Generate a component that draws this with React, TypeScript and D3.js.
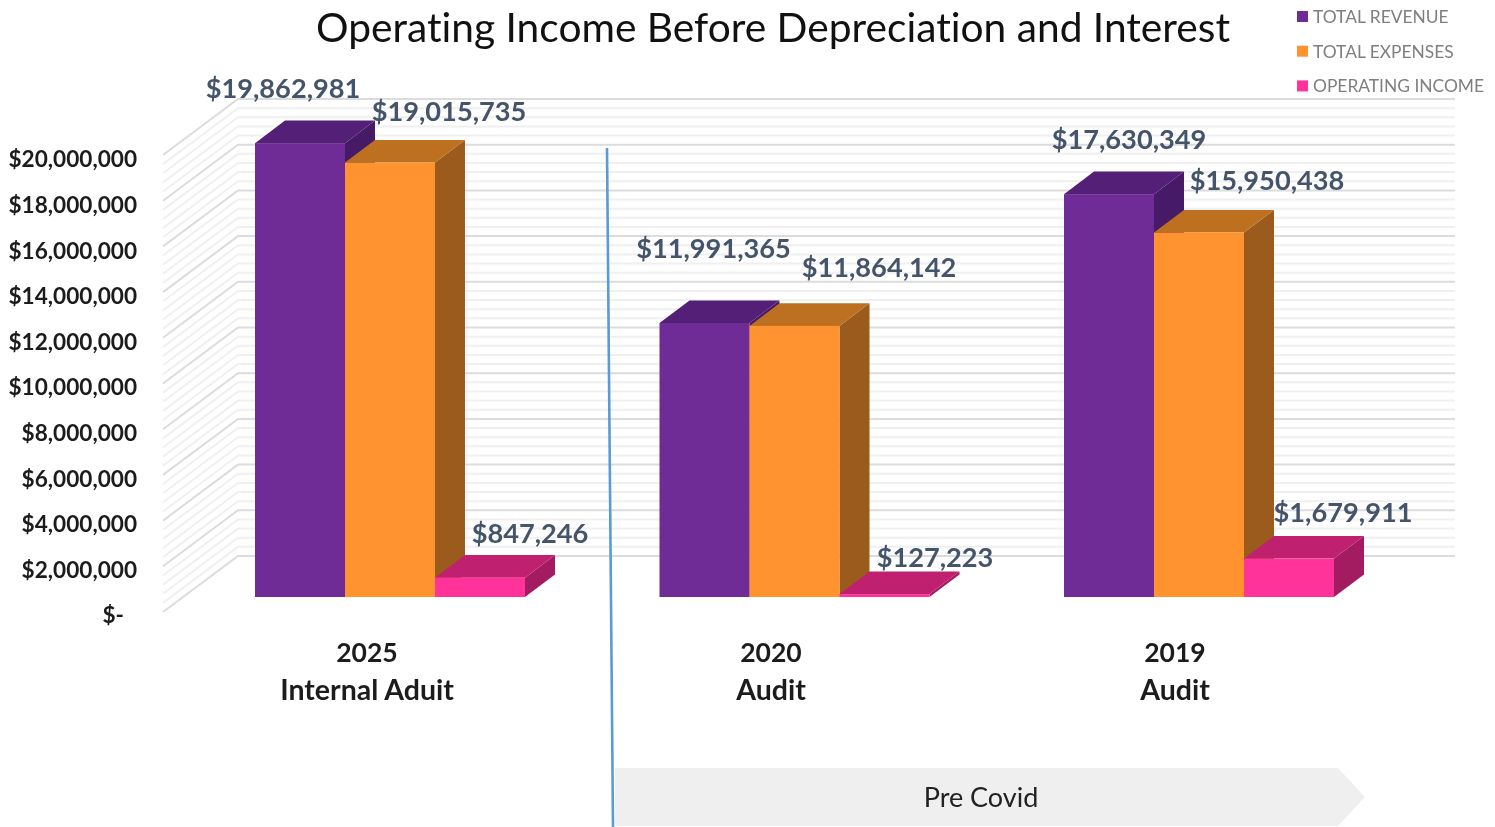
import React from "react";
import * as d3 from "d3";

const groups = ["2025", "2020", "2019"];
const groupSubs = ["Internal Aduit", "Audit", "Audit"];
const seriesNames = ["TOTAL REVENUE", "TOTAL EXPENSES", "OPERATING INCOME"];
const revenue = [19862981, 11991365, 17630349];
const expenses = [19015735, 11864142, 15950438];
const income = [847246, 127223, 1679911];
const seriesValues = [revenue, expenses, income];
const frontColors = ["#6f2c96", "#ff9330", "#ff3399"];
const topColors = ["#541f77", "#bd7020", "#c02070"];
const sideColors = ["#461a66", "#9a5b1c", "#a31c62"];
const axisTicks = d3.range(0, 20000001, 2000000);

// label offsets: dx of label centre from group left, dy of baseline from bar top (series, then group)
const labelDx = [[28, 54, 65], [194, 219.5, 203], [275, 275.5, 279]];
const labelDy = [[-45, -65, -45], [-41.5, -49, -43], [-35, -27, -37]];

const W = 1495, H = 827;
const FONT = "Lato, 'Open Sans', sans-serif";
const fmt = d3.format(",");

const yFront = d3.scaleLinear().domain([0, 20000000]).range([597, 140]);
const yWall = d3.scaleLinear().domain([0, 20000000]).range([556, 99]);
const ySide = d3.scaleLinear().domain([0, 20000000]).range([612, 155]);
const yTick = d3.scaleLinear().domain([0, 20000000]).range([615.5, 159.5]);
const groupStep = 404.5;
const xBar = d3.scaleBand<string>().domain(seriesNames).range([0, 270]);
const depthX = 30, depthY = 22.6;
const minorTicks = d3.range(0, 20000001, 400000);
const wallLeft = 238, sideLeft = 163, wallRight = 1455;

export default function App() {
  const line = d3.line();
  return (
    <svg width={W} height={H} viewBox={`0 0 ${W} ${H}`}
      style={{ position: "absolute", left: 0, top: 0, display: "block", background: "#fff", fontFamily: FONT, fontVariantLigatures: "none", filter: "blur(0.5px)" }}>
      {/* walls */}
      {minorTicks.map((t) => {
        const major = t % 2000000 === 0;
        const c = major ? "#dcdcdc" : "#f0f0f0";
        return (
          <path key={t} fill="none" stroke={c} strokeWidth={2}
            d={line([[sideLeft, ySide(t)], [wallLeft, yWall(t)], [wallRight, yWall(t)]])!} />
        );
      })}
      {/* y axis labels */}
      {axisTicks.map((t) => (
        <text key={t} x={t === 0 ? 124 : 137} y={yTick(t)} dy="0.35em" textAnchor="end"
          fontSize={22.6} fontWeight={700} fill="#1c1c1c">
          {t === 0 ? "$-" : "$" + fmt(t)}
        </text>
      ))}
      {/* bars */}
      {groups.map((g, gi) => {
        const gx = 255 + gi * groupStep;
        return (
          <g key={g}>
            {seriesNames.map((s, si) => {
              const v = seriesValues[si][gi];
              const x0 = gx + xBar(s)!;
              const x1 = x0 + xBar.bandwidth();
              const yt = yFront(v), yb = yFront(0);
              return (
                <g key={s}>
                  <path fill={sideColors[si]} d={line([[x1, yb], [x1 + depthX, yb - depthY], [x1 + depthX, yt - depthY], [x1, yt]])! + "Z"} />
                  <path fill={topColors[si]} d={line([[x0, yt], [x0 + depthX, yt - depthY], [x1 + depthX, yt - depthY], [x1, yt]])! + "Z"} />
                  <rect x={x0} y={yt} width={x1 - x0} height={yb - yt} fill={frontColors[si]} />
                </g>
              );
            })}
          </g>
        );
      })}
      {/* data labels */}
      {groups.map((g, gi) =>
        seriesNames.map((s, si) => {
          const v = seriesValues[si][gi];
          return (
            <text key={g + s} x={255 + gi * groupStep + labelDx[si][gi]}
              y={yFront(v) + labelDy[si][gi]} textAnchor="middle" fontSize={27.2} fontWeight={700} fill="#44546a">
              {"$" + fmt(v)}
            </text>
          );
        })
      )}
      {/* category labels */}
      {groups.map((g, gi) => {
        const cx = 367 + gi * 404;
        return (
          <g key={g} textAnchor="middle" fontWeight={700} fill="#1c1c1c">
            <text x={cx} y={662} fontSize={26.5}>{g}</text>
            <text x={cx} y={700} fontSize={28.5}>{groupSubs[gi]}</text>
          </g>
        );
      })}
      {/* title */}
      <text x={773} y={42} textAnchor="middle" fontSize={40.7} fill="#111">
        Operating Income Before Depreciation and Interest
      </text>
      {/* legend */}
      {seriesNames.map((s, i) => (
        <g key={s}>
          <rect x={1297} y={11 + i * 34.7} width={11} height={11} fill={frontColors[i]} />
          <text x={1313} y={23 + i * 34.7} fontSize={17.4} fill="#7f7f7f">{s}</text>
        </g>
      ))}
      {/* divider */}
      <line x1={607} y1={148} x2={613} y2={827} stroke="#5b9bd5" strokeWidth={2.6} />
      {/* arrow */}
      <path fill="#efefef" d="M615,768 L1338,768 L1365,797 L1338,826 L615,826 Z" />
      <text x={981} y={807} textAnchor="middle" fontSize={27} fill="#222">Pre Covid</text>
    </svg>
  );
}
